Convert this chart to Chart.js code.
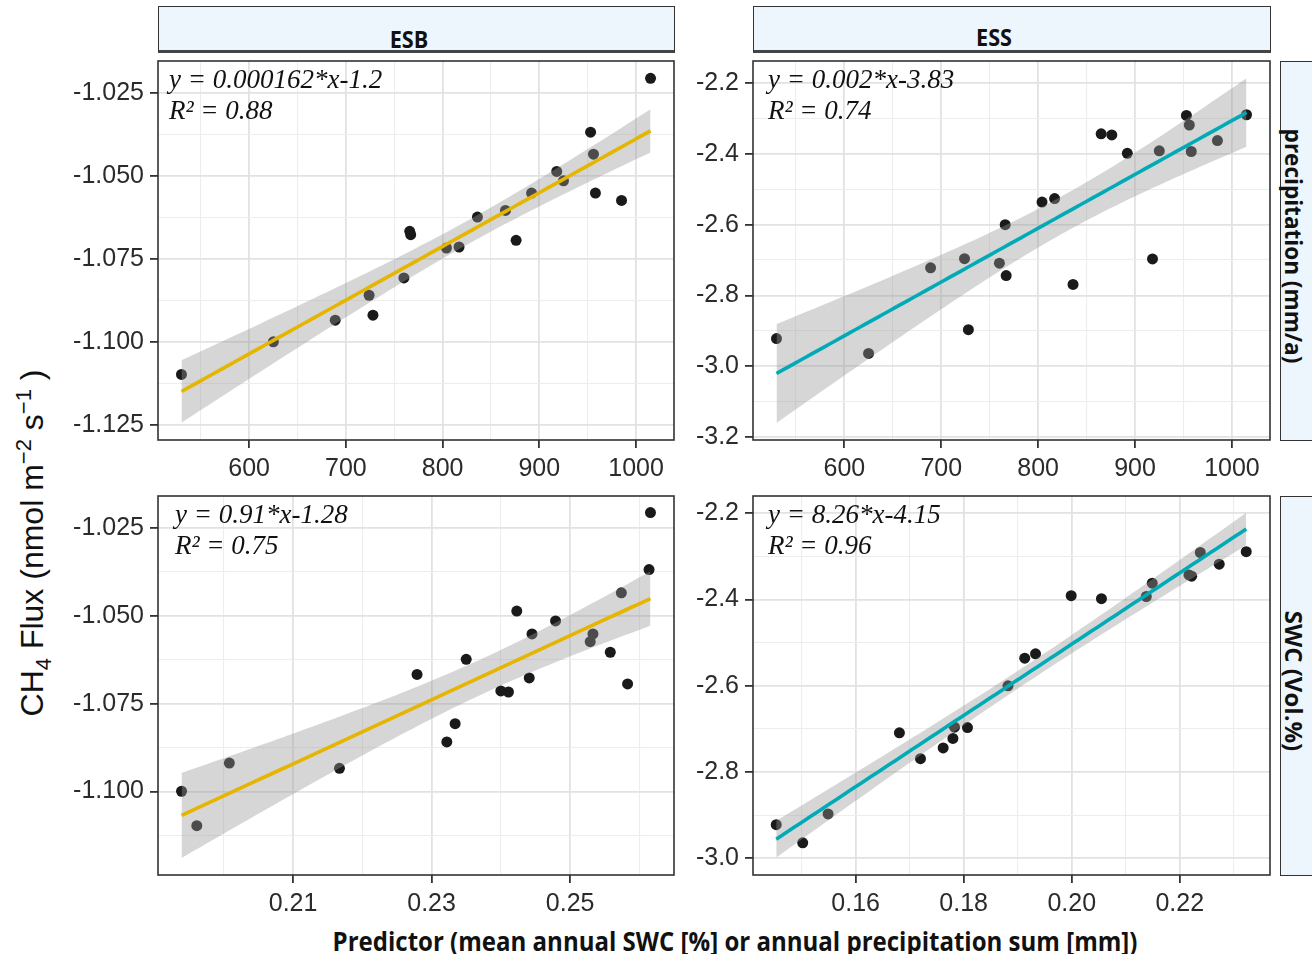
<!DOCTYPE html>
<html>
<head>
<meta charset="utf-8">
<script src="https://cdn.jsdelivr.net/npm/chart.js@4.4.1/dist/chart.umd.min.js"></script>
<style>
  body { margin: 0; background: #fff; width: 1312px; height: 954px; position: relative; overflow: hidden; font-family: "Liberation Sans", Arial, sans-serif; }
  canvas { position: absolute; }
  .strip { position: absolute; box-sizing: border-box; background: #eef6fd; border: 1.5px solid #333; border-bottom: 3px solid #444; }
  .lab { position: absolute; white-space: nowrap; font: bold 24px "Open Sans", sans-serif; color: #111; transform: translate(-50%, -50%) scaleX(0.9); }
  .ytitle { position: absolute; white-space: nowrap; font: 32px "Liberation Sans", Arial, sans-serif; color: #111; transform: translate(-50%, -50%) rotate(-90deg); }
  .ytitle sub, .ytitle sup { font-size: 22px; }
</style>
</head>
<body>
<div class="strip" style="left:158px;top:6px;width:517px;height:47px"></div>
<div class="strip" style="left:753px;top:6px;width:518px;height:47px"></div>
<div class="lab" style="left:409px;top:38px">ESB</div>
<div class="lab" style="left:994px;top:36px">ESS</div>
<div class="strip" style="left:1280px;top:61px;width:44px;height:380px;border-bottom:1.5px solid #333"></div>
<div class="strip" style="left:1280px;top:496px;width:44px;height:380px;border-bottom:1.5px solid #333"></div>
<div class="lab" style="left:1294px;top:246px;transform:translate(-50%,-50%) rotate(90deg) scaleX(0.94)">precipitation (mm/a)</div>
<div class="lab" style="left:1294px;top:681px;transform:translate(-50%,-50%) rotate(90deg)">SWC (Vol.%)</div>
<div class="ytitle" style="left:34px;top:543px">CH<sub>4</sub> Flux (nmol m<sup>−2</sup> s<sup>−1</sup> )</div>
<div class="lab" style="left:735px;top:940px;font-size:27px;transform:translate(-50%,-50%) scaleX(0.89)">Predictor (mean annual SWC [%] or annual precipitation sum [mm])</div>

<canvas id="tl"></canvas>
<canvas id="tr"></canvas>
<canvas id="bl"></canvas>
<canvas id="br"></canvas>

<script>
// annual precipitation sum (mm/a), shared by both sites
const precip = [530, 625, 689, 724, 728, 760, 766, 767, 804, 817, 836, 865, 876, 892, 918, 925, 953, 956, 958, 985, 1015];
// CH4 flux per site, same order as precip
const esbFlux = [-1.1097, -1.0999, -1.0934, -1.0859, -1.0919, -1.0807, -1.0667, -1.0677, -1.0717, -1.0714, -1.0624,
  -1.0604, -1.0694, -1.0552, -1.0487, -1.0515, -1.0369, -1.0435, -1.0552, -1.0574, -1.0207];
const essFlux = [-2.922, -2.964, -2.722, -2.696, -2.897, -2.709, -2.600, -2.744, -2.536, -2.526, -2.769,
  -2.343, -2.346, -2.398, -2.697, -2.391, -2.291, -2.318, -2.393, -2.362, -2.289];
// mean annual SWC per site, same order
const esbSwc = [0.1961, 0.1939, 0.2167, 0.2322, 0.2008, 0.2334, 0.2279, 0.2441, 0.2411, 0.2400, 0.2350,
  0.2558, 0.2583, 0.2445, 0.2423, 0.2479, 0.2614, 0.2574, 0.2533, 0.2529, 0.2616];
const essSwc = [0.1453, 0.1502, 0.1780, 0.1783, 0.1549, 0.1681, 0.1882, 0.1762, 0.1913, 0.1933, 0.1720,
  0.2217, 0.2222, 0.2055, 0.1807, 0.1999, 0.2238, 0.2273, 0.2138, 0.2149, 0.2323];

// tick labels
const precipTicks = [600, 700, 800, 900, 1000];
const esbSwcTicks = [0.21, 0.23, 0.25];
const essSwcTicks = [0.16, 0.18, 0.20, 0.22];
const esbPrecipYTicks = [-1.025, -1.05, -1.075, -1.1, -1.125];
const esbSwcYTicks = [-1.025, -1.05, -1.075, -1.1];
const essPrecipYTicks = [-2.2, -2.4, -2.6, -2.8, -3.0, -3.2];
const essSwcYTicks = [-2.2, -2.4, -2.6, -2.8, -3.0];

const eqLabels = ["y = 0.000162*x-1.2", "y = 0.002*x-3.83", "y = 0.91*x-1.28", "y = 8.26*x-4.15"];
const r2Labels = ["R\u00b2 = 0.88", "R\u00b2 = 0.74", "R\u00b2 = 0.75", "R\u00b2 = 0.96"];

const YELLOW = "#E5B500", TEAL = "#00AAB7";

const panels = [
  { id: "tl", x: precip, y: esbFlux, xt: precipTicks, yt: esbPrecipYTicks, xd: 0, yd: 3, xr: [505.75, 1039.25], yr: [-1.1294, -1.0155], col: YELLOW, l: 158, t: 61, r: 674, b: 440, cl: 0, dx: 11 },
  { id: "tr", x: precip, y: essFlux, xt: precipTicks, yt: essPrecipYTicks, xd: 0, yd: 1, xr: [505.75, 1039.25], yr: [-3.209, -2.137], col: TEAL, l: 753, t: 61, r: 1270, b: 440, cl: 680, dx: 15 },
  { id: "bl", x: esbSwc, y: esbFlux, xt: esbSwcTicks, yt: esbSwcYTicks, xd: 2, yd: 3, xr: [0.1905, 0.2650], yr: [-1.1237, -1.016], col: YELLOW, l: 158, t: 496, r: 674, b: 875, cl: 0, dx: 17 },
  { id: "br", x: essSwc, y: essFlux, xt: essSwcTicks, yt: essSwcYTicks, xd: 2, yd: 1, xr: [0.1410, 0.2367], yr: [-3.0387, -2.160], col: TEAL, l: 753, t: 496, r: 1270, b: 875, cl: 680, dx: 15 },
];

// lm fit with 95% confidence band, like geom_smooth(method = "lm")
function lmBand(xs, ys) {
  const n = xs.length;
  const mx = xs.reduce((a, v) => a + v, 0) / n;
  const my = ys.reduce((a, v) => a + v, 0) / n;
  let sxx = 0, sxy = 0;
  xs.forEach((v, i) => { sxx += (v - mx) ** 2; sxy += (v - mx) * (ys[i] - my); });
  const b = sxy / sxx, a = my - b * mx;
  let sse = 0;
  xs.forEach((v, i) => { sse += (ys[i] - a - b * v) ** 2; });
  const s = Math.sqrt(sse / (n - 2)), tq = 2.093;
  const lo = Math.min(...xs), hi = Math.max(...xs);
  const fit = [], up = [], dn = [];
  for (let k = 0; k < 80; k++) {
    const gx = lo + (hi - lo) * k / 79;
    const yh = a + b * gx;
    const se = s * Math.sqrt(1 / n + (gx - mx) ** 2 / sxx);
    fit.push({ x: gx, y: yh });
    up.push({ x: gx, y: yh + tq * se });
    dn.push({ x: gx, y: yh - tq * se });
  }
  return { fit, up, dn };
}

function withMinors(majors, range) {
  const step = majors[1] - majors[0];
  const all = majors.slice();
  majors.forEach((m) => all.push(m - step / 2));
  all.push(majors[majors.length - 1] + step / 2);
  const lo = Math.min(...range), hi = Math.max(...range);
  return all.filter((v) => v >= lo && v <= hi).sort((p, q) => p - q);
}

function isMajor(v, majors) {
  return majors.some((m) => Math.abs(m - v) < 1e-9);
}

function axis(majors, range, digits, extra) {
  const vals = withMinors(majors, range);
  return Object.assign({
    type: "linear",
    min: range[0],
    max: range[1],
    afterBuildTicks: (sc) => { sc.ticks = vals.map((v) => ({ value: v })); },
    border: { display: false },
    grid: {
      color: (c) => (c.tick && isMajor(c.tick.value, majors) ? "#e2e2e2" : "#ededed"),
      lineWidth: (c) => (c.tick && isMajor(c.tick.value, majors) ? 1.8 : 1.1),
      tickColor: (c) => (c.tick && isMajor(c.tick.value, majors) ? "#333" : "rgba(0,0,0,0)"),
      tickLength: 8,
      drawTicks: true,
    },
    ticks: {
      autoSkip: false,
      maxRotation: 0,
      padding: 6,
      color: "#2b2b2b",
      font: { family: "'Liberation Sans', Arial, sans-serif", size: 25 },
      callback: (v) => (isMajor(v, majors) ? Number(v).toFixed(digits) : ""),
    },
  }, extra);
}

const framePlugin = {
  id: "frame",
  afterDraw(chart, args, opts) {
    const { ctx, chartArea: ca } = chart;
    ctx.save();
    ctx.strokeStyle = "#333";
    ctx.lineWidth = 1.6;
    ctx.strokeRect(ca.left, ca.top, ca.right - ca.left, ca.bottom - ca.top);
    ctx.fillStyle = "#111";
    ctx.font = "italic 27px 'Liberation Serif', 'DejaVu Serif', serif";
    ctx.textBaseline = "alphabetic";
    ctx.fillText(opts.eq, ca.left + opts.dx, ca.top + 27);
    ctx.fillText(opts.r2, ca.left + opts.dx, ca.top + 58);
    ctx.restore();
  },
};

panels.forEach((p, i) => {
  const cv = document.getElementById(p.id);
  const padTop = 6, padRight = 6, xH = 48;
  cv.width = p.r + padRight - p.cl;
  cv.height = p.b - p.t + padTop + xH;
  cv.style.left = p.cl + "px";
  cv.style.top = (p.t - padTop) + "px";
  const yW = p.l - p.cl;
  const band = lmBand(p.x, p.y);
  const pts = p.x.map((v, k) => ({ x: v, y: p.y[k] }));

  new Chart(cv, {
    type: "scatter",
    data: {
      datasets: [
        { data: band.fit, showLine: true, borderColor: p.col, borderWidth: 3.6, pointRadius: 0, order: 0 },
        { data: band.up, showLine: true, borderWidth: 0, borderColor: "rgba(0,0,0,0)", pointRadius: 0,
          fill: "+1", backgroundColor: "rgba(153,153,153,0.4)", order: 1 },
        { data: band.dn, showLine: true, borderWidth: 0, borderColor: "rgba(0,0,0,0)", pointRadius: 0, order: 2 },
        { data: pts, pointRadius: 5.5, pointBackgroundColor: "#1a1a1a", pointBorderWidth: 0, order: 3 },
      ],
    },
    options: {
      responsive: false,
      animation: false,
      layout: { padding: { top: padTop, right: padRight, left: 0, bottom: 0 } },
      plugins: {
        legend: { display: false },
        tooltip: { enabled: false },
        frame: { eq: eqLabels[i], r2: r2Labels[i], dx: p.dx },
      },
      scales: {
        x: axis(p.xt, p.xr, p.xd, { position: "bottom", afterFit: (sc) => { sc.height = xH; sc.paddingLeft = 0; sc.paddingRight = 0; } }),
        y: axis(p.yt, p.yr, p.yd, { position: "left", afterFit: (sc) => { sc.width = yW; sc.paddingTop = 0; sc.paddingBottom = 0; } }),
      },
    },
    plugins: [framePlugin],
  });
});
</script>
</body>
</html>
